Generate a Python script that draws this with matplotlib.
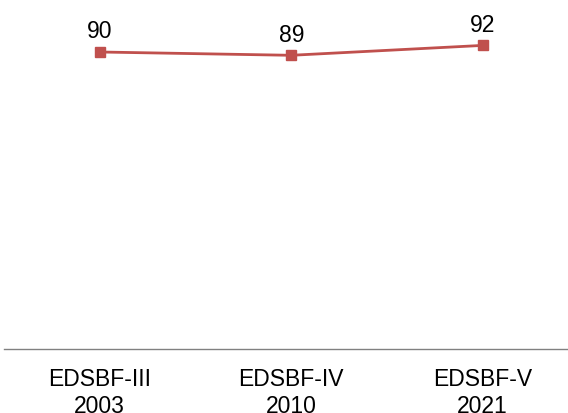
import matplotlib.pyplot as plt

surveys = ['EDSBF-III\n2003', 'EDSBF-IV\n2010', 'EDSBF-V\n2021']
values = [90, 89, 92]

plt.rcParams['font.family'] = ['Liberation Sans', 'DejaVu Sans']

fig = plt.figure(figsize=(5.68, 4.14), dpi=100)
ax = fig.add_axes([4 / 568, 64 / 414, 574.5 / 568, 330 / 414])

x = range(len(values))
ax.plot(x, values, color='#C0504D', linewidth=2.0, marker='s', markersize=7.7)

for i, v in enumerate(values):
    ax.annotate(str(v), (i, v), textcoords='offset points', xytext=(0, 10.5),
                ha='center', va='baseline', fontsize=16.5)

ax.set_xlim(-0.5, 2.5)
ax.set_ylim(0, 100)
ax.set_xticks(list(x))
ax.set_xticklabels(surveys, fontsize=16.5, linespacing=1.2)
ax.tick_params(axis='x', length=0, pad=13)
ax.set_yticks([])
for side in ['top', 'right', 'left']:
    ax.spines[side].set_visible(False)
ax.spines['bottom'].set_color('#808080')
ax.spines['bottom'].set_linewidth(1.0)

fig.savefig('out.png', dpi=100)
